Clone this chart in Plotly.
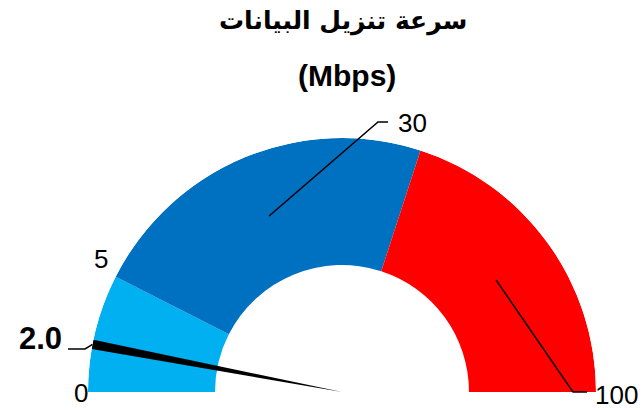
import math
import plotly.graph_objects as go

# ---------------- data ----------------
tick_labels = ["0", "5", "30", "100"]          # band boundaries (Mbps)
segment_share = [15, 45, 40]                   # share of the half dial for 0-5, 5-30, 30-100
segment_colors = ["#00B0F0", "#0070C0", "#FF0000"]
needle_value = 2.0
needle_label = "2.0"
title_ar = "سرعة تنزيل البيانات"
title_unit = "(Mbps)"

# ---------------- layout constants ----------------
W, H = 644, 410
CX, CY, R = 342, 392, 254        # dial centre and outer radius in pixels
HALF = 180.0
RING_INNER = 0.5
NEEDLE_WIDTH_DEG = 2.1

tick_values = [float(t) for t in tick_labels]
cum = [0.0]
for s in segment_share:
    cum.append(cum[-1] + s)
total = cum[-1]
theta_edges = [c / total * HALF for c in cum]
centers = [(a + b) / 2 for a, b in zip(theta_edges[:-1], theta_edges[1:])]
widths = [b - a for a, b in zip(theta_edges[:-1], theta_edges[1:])]


def value_to_deg(v):
    for i in range(len(tick_values) - 1):
        v0, v1 = tick_values[i], tick_values[i + 1]
        if v0 <= v <= v1:
            return theta_edges[i] + (v - v0) / (v1 - v0) * (theta_edges[i + 1] - theta_edges[i])
    return theta_edges[-1]


needle_deg = value_to_deg(needle_value)


def polar_px(deg, r):
    a = math.radians(deg)
    return CX - r * R * math.cos(a), CY - r * R * math.sin(a)


def px_to_paper(x, y):
    return x / W, 1 - y / H


fig = go.Figure()
fig.add_trace(go.Barpolar(
    r=[1 - RING_INNER] * len(segment_share),
    base=[RING_INNER] * len(segment_share),
    theta=centers,
    width=widths,
    marker=dict(color=segment_colors, line=dict(width=0)),
    hoverinfo="skip",
    showlegend=False,
))
fig.add_trace(go.Barpolar(
    r=[1.0], base=[0.0], theta=[needle_deg], width=[NEEDLE_WIDTH_DEG],
    marker=dict(color="black", line=dict(width=0)),
    hoverinfo="skip", showlegend=False,
))


def path(points):
    pts = [px_to_paper(x, y) for x, y in points]
    return "M " + " L ".join(f"{x:.5f} {y:.5f}" for x, y in pts)


shapes = []
leader_style = dict(type="path", xref="paper", yref="paper", layer="above",
                    line=dict(color="black", width=1.5))
# leader for "30" (middle of 5-30 band)
shapes.append(dict(path=path([polar_px(centers[1], 0.75), (378, 122), (388, 122)]), **leader_style))
# leader for "100" (middle of 30-100 band)
shapes.append(dict(path=path([polar_px(centers[2], 0.75), (573, 392), (587, 392)]), **leader_style))
# leader for needle value
shapes.append(dict(path=path([(68, 349), (85, 349), polar_px(needle_deg, 1.0)]), **leader_style))

num_font = dict(family="Liberation Sans, Arial, sans-serif", size=26, color="black")
label_pos = [(80.5, 393), (101, 259), (412.5, 122.5), (616.5, 395)]
annotations = []
for txt, (x, y) in zip(tick_labels, label_pos):
    xp, yp = px_to_paper(x, y)
    annotations.append(dict(text=txt, x=xp, y=yp, xref="paper", yref="paper",
                            xanchor="center", yanchor="middle", showarrow=False, font=num_font))
xp, yp = px_to_paper(40, 338)
annotations.append(dict(text=f"<b>{needle_label}</b>", x=xp, y=yp, xref="paper", yref="paper",
                        xanchor="center", yanchor="middle", showarrow=False,
                        font=dict(family="Liberation Sans, Arial, sans-serif", size=31, color="black")))
xp, yp = px_to_paper(342.5, 21)
annotations.append(dict(text=f"<b>{title_ar}</b>", x=xp, y=yp, xref="paper", yref="paper",
                        xanchor="center", yanchor="middle", showarrow=False,
                        font=dict(family="DejaVu Sans, sans-serif", size=25, color="black")))
xp, yp = px_to_paper(347, 76)
annotations.append(dict(text=f"<b>{title_unit}</b>", x=xp, y=yp, xref="paper", yref="paper",
                        xanchor="center", yanchor="middle", showarrow=False,
                        font=dict(family="Liberation Sans, Arial, sans-serif", size=30, color="black")))

fig.update_layout(
    width=W, height=H,
    margin=dict(l=0, r=0, t=0, b=0),
    paper_bgcolor="white",
    plot_bgcolor="white",
    showlegend=False,
    polar=dict(
        domain=dict(x=[(CX - R) / W, (CX + R) / W], y=[1 - CY / H, 1 - (CY - R) / H]),
        sector=[0, 180],
        hole=0,
        bgcolor="white",
        radialaxis=dict(range=[0, 1], visible=False, showgrid=False, showline=False,
                        showticklabels=False, ticks=""),
        angularaxis=dict(visible=False, direction="clockwise", rotation=180,
                         showgrid=False, showline=False, showticklabels=False, ticks=""),
    ),
    shapes=shapes,
    annotations=annotations,
)

fig.write_html(
    "out.html",
    config={"displayModeBar": False},
    post_script="document.body.style.margin='0px';document.body.style.overflow='hidden';",
)
